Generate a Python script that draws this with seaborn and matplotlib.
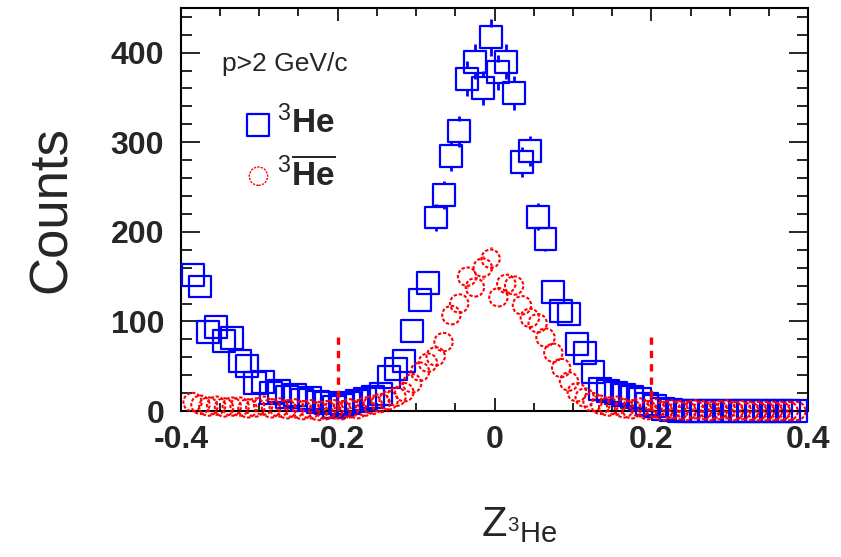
import numpy as np
import pandas as pd
import matplotlib
matplotlib.use('Agg')
import matplotlib.pyplot as plt
import seaborn as sns
from matplotlib.ticker import MultipleLocator, FuncFormatter

# bin centres of the Z distribution
z_bins = [-0.385, -0.375, -0.365, -0.355, -0.345, -0.335, -0.325, -0.315, -0.305, -0.295,
          -0.285, -0.275, -0.265, -0.255, -0.245, -0.235, -0.225, -0.215, -0.205, -0.195,
          -0.185, -0.175, -0.165, -0.155, -0.145, -0.135, -0.125, -0.115, -0.105, -0.095,
          -0.085, -0.075, -0.065, -0.055, -0.045, -0.035, -0.025, -0.015, -0.005, 0.005,
          0.015, 0.025, 0.035, 0.045, 0.055, 0.065, 0.075, 0.085, 0.095, 0.105,
          0.115, 0.125, 0.135, 0.145, 0.155, 0.165, 0.175, 0.185, 0.195, 0.205,
          0.215, 0.225, 0.235, 0.245, 0.255, 0.265, 0.275, 0.285, 0.295, 0.305,
          0.315, 0.325, 0.335, 0.345, 0.355, 0.365, 0.375, 0.385]

he3_counts = [152, 139, 88, 94, 78, 82, 56, 50, 31, 32,
              20, 22, 16, 18, 12, 15, 10, 9, 5, 7,
              9, 11, 14, 16, 19, 38, 47, 56, 89, 124,
              143, 216, 241, 285, 312, 371, 390, 361, 417, 378,
              390, 355, 278, 290, 217, 192, 133, 112, 108, 75,
              65, 44, 25, 22, 20, 18, 16, 14, 8, 6,
              2, 1, 0, 0, 0, 0, 0, 0, 0, 0,
              0, 0, 0, 0, 0, 0, 0, 0]

antihe3_counts = [10, 7, 5, 6, 4, 5, 5, 3, 4, 6,
                  3, 4, 2, 3, 1, 2, 0, 1, 2, 1,
                  3, 2, 5, 7, 9, 12, 16, 21, 31, 44,
                  54, 61, 77, 107, 120, 150, 138, 160, 170, 127,
                  142, 140, 118, 104, 98, 82, 65, 48, 33, 21,
                  15, 10, 7, 5, 6, 3, 2, 4, 1, 3,
                  0, 2, 1, 0, 2, 1, 0, 1, 2, 0,
                  1, 0, 0, 0, 0, 0, 0, 0]

cut_lo, cut_hi, cut_height = -0.2, 0.2, 85

df = pd.DataFrame({'z': z_bins, 'he3': he3_counts, 'antihe3': antihe3_counts})

sns.set_theme(style='ticks')
plt.rcParams['font.family'] = ['Liberation Sans', 'DejaVu Sans']
plt.rcParams['mathtext.fontset'] = 'custom'
plt.rcParams['mathtext.rm'] = 'Liberation Sans'
plt.rcParams['mathtext.bf'] = 'Liberation Sans:bold'
plt.rcParams['mathtext.it'] = 'Liberation Sans:italic'
plt.rcParams['axes.unicode_minus'] = False

fig = plt.figure(figsize=(8.41, 5.57), dpi=100)
ax = fig.add_axes([0.215, 0.262, 0.746, 0.724])

half_box = 12  # half marker height in counts, error bars start outside the marker
for col, color in [('he3', 'blue'), ('antihe3', 'red')]:
    err = np.sqrt(df[col])
    show = err > half_box
    ax.vlines(df['z'][show], (df[col] + half_box)[show], (df[col] + err)[show],
              color=color, lw=2)
    ax.vlines(df['z'][show], (df[col] - err)[show], (df[col] - half_box)[show],
              color=color, lw=2)

sns.scatterplot(data=df, x='z', y='he3', marker='s', s=250, facecolors='none',
                edgecolor='blue', linewidth=1.6, ax=ax, clip_on=False, zorder=3,
                label=r'$^{3}\mathbf{He}$')
sns.scatterplot(data=df, x='z', y='antihe3', marker='o', s=175, facecolors='none',
                edgecolor='red', linewidth=1.5, linestyle=(0, (1.6, 0.9)),
                ax=ax, clip_on=False, zorder=3,
                label=r'$^{3}\overline{\mathbf{He}}$')

ax.vlines([cut_lo, cut_hi], 0, cut_height, color='red', lw=2.4,
          linestyle=(0, (2.2, 1.8)), zorder=4)

ax.set_xlim(-0.4, 0.4)
ax.set_ylim(0, 450)
ax.xaxis.set_major_locator(MultipleLocator(0.2))
ax.xaxis.set_minor_locator(MultipleLocator(0.05))
ax.yaxis.set_major_locator(MultipleLocator(100))
ax.yaxis.set_minor_locator(MultipleLocator(20))
ax.xaxis.set_major_formatter(FuncFormatter(lambda v, p: '0' if abs(v) < 1e-9 else f'{v:g}'))

for s in ax.spines.values():
    s.set_linewidth(1.5)
    s.set_color('black')
ax.tick_params(axis='x', which='major', direction='in', length=9.5, width=1.4,
               top=True, labelsize=23, pad=10)
ax.tick_params(axis='x', which='minor', direction='in', length=6, width=1.4, top=True)
ax.tick_params(axis='y', which='major', direction='in', length=14, width=1.4,
               right=True, labelsize=23, pad=12)
ax.tick_params(axis='y', which='minor', direction='in', length=8, width=1.4, right=True)
for lab in ax.get_xticklabels() + ax.get_yticklabels():
    lab.set_fontweight('bold')

ax.set_xlabel(r'$\mathrm{Z}_{^{3}\mathrm{He}}$', fontsize=30, labelpad=36)
ax.xaxis.label.set_x(0.54)
ax.set_ylabel('Counts', fontsize=38, labelpad=24)

ax.text(0.065, 0.86, 'p>2 GeV/c', transform=ax.transAxes, fontsize=19,
        va='center', ha='left')
leg = ax.legend(loc='upper left', bbox_to_anchor=(0.06, 0.79), frameon=False,
                fontsize=24, handletextpad=-0.25, labelspacing=0.5, borderaxespad=0,
                handlelength=1.6)
leg.legend_handles[1].set_linestyle((0, (1.6, 0.9)))

fig.savefig('out.png', dpi=100)
